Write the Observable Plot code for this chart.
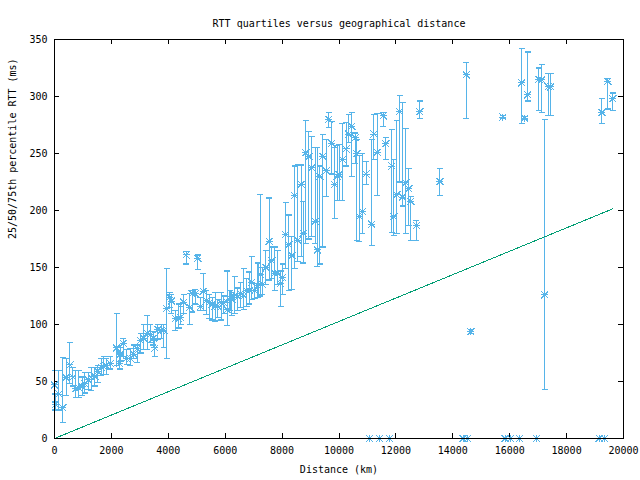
<!DOCTYPE html>
<html><head><meta charset="utf-8">
<script src="https://cdn.jsdelivr.net/npm/d3@7"></script>
<script src="https://cdn.jsdelivr.net/npm/@observablehq/plot@0.6"></script>
<style>
body{margin:0;background:#fff}
svg path, svg line { shape-rendering: crispEdges; }
</style>
</head><body><div id="chart"></div>
<script>
const title = "RTT quartiles versus geographical distance";
const xLabel = "Distance (km)";
const yLabel = "25/50/75th percentile RTT (ms)";
const xTicks = [0, 2000, 4000, 6000, 8000, 10000, 12000, 14000, 16000, 18000, 20000];
const yTicks = [0, 50, 100, 150, 200, 250, 300, 350];

// distance (km), median, 25th, 75th percentile RTT (ms)
const distance = [0,35,150,293,410,540,645,750,855,973,1066,1183,1289,1418,1523,1640,1734,1816,1968,2180,2285,2320,2414,2531,2671,2788,2906,3023,3140,3257,3374,3468,3527,3632,3749,3843,3937,4054,4112,4253,4370,4429,4546,
4628,4757,4840,4945,5040,5130,5225,5340,5435,5540,5645,5740,5860,5950,6070,6170,6230,6340,6445,6540,6655,6750,6845,6935,7030,7150,7240,7310,7430,7545,7640,7735,7850,7945,8015,
8120,8236,8342,8436,8553,8671,8741,8834,8940,9045,9163,9244,9325,9431,9549,9642,9748,9842,9936,10006,10123,10252,10345,10450,10569,10627,10720,10826,10955,11153,11224,11342,11553,11646,11857,11927,12032,12127,12232,12349,12455,12525,12724,12841,
13545,14470,14635,15760,16425,16530,16635,17020,17130,17235,17350,17435,19240,19450,19625,
11072,11424,11775,14365,14517,15841,16028,16344,16942,19146,19332];
const median = [47,30,39,27,53.5,64.6,54,43.6,44.5,45.6,48,51.5,54,54.4,59,62.6,63,64,66,79.5,66,74,83.6,70,70,74,78.7,86,88,92.4,91,88,79.5,95.6,95,95,114,124,120.5,105,105,106,119.6,
161,115,127,127,158,116,129,121,119,117.5,116,116,119,119,113,123,122,126,124,127,125,130,130,137,130,134,144,135,150,173,156,145,145,136,141,
179,170,160.5,213,174,223,180,250.6,247.4,237.4,190.4,165.5,230,247.4,235,280,259,223,230,231.6,244.5,254,267,273.7,263.8,249.7,194.7,199,232,188,267,251,283,258.5,239,194.7,213.8,286.8,211.7,224.3,219,208,186.8,286.6,
225.4,319,93.6,282,312,281,301.5,315,314.6,126,308.5,308.5,286,313.4,298,
0,0,0,0,0,0,0,0,0,0,0];
const q25 = [32,25,25,14,38,48,46,36,36,38,40,43,42,46,49,55,56,56,61,64,61,68,72,65,64,70,67,75,78,78,84,82,72,87,88,80,70,115,110,95,97,100,110,
153,100,111,118,148,112,112,109,105,104,103,106,104,110,99,112,108,110,112,115,113,116,118,122,123,124,125,126,135,139,140,130,135,116,126,
149,130,131,149,155,160,154,171,175,177,171,151,153,168,212,273,232,193,209,209,209,239,260,230,241,174,173,180,223,169,245,213,274,245,181,178,180,225,204,180,187,174,174,281,
213,280.4,92,281,276,280,296,288,285.7,43,283,283,276,289,287.5,
0,0,0,0,0,0,0,0,0,0,0];
const q75 = [60,39,60,71,70,84,62,60,60,54,58,58,62,62,64,70,72,70,72,110,75,80,88,78,79,82,82,92,100,108,100,94,86,100,100,100,149,128,126,112,118,116,126,
164,127,130,131,161,124,145,130,126,124,128,122,128,125,147,130,128,142,132,137,149,140,146,160,136,154,214,150,165,211,168,168,165,147,153,
207,196,177,239,240,240,208,279,269,265,255,255,239,267,262,286,278,255,257,258,276,277,284,286,268,262,248,250,243,262,284,285,286,264,271,245,279,301,295,272,237,212,191,296,
236.6,329.5,95.5,283,342,282.5,339,325,327.8,280,320,320,298,316,303,
0,0,0,0,0,0,0,0,0,0,0];

// reference line (theoretical RTT), endpoints
const lineDistance = [0, 19625];
const lineRtt = [0, 201.5];

const rows = distance.map((d, i) => ({d, m: median[i], lo: q25[i], hi: q75[i]}));
const lineRows = lineDistance.map((d, i) => ({d, v: lineRtt[i]}));

const asterisk = {draw(ctx, size) {
  const r = Math.sqrt(size / Math.PI);
  ctx.moveTo(-r, 0); ctx.lineTo(r, 0);
  ctx.moveTo(0, -r); ctx.lineTo(0, r);
  ctx.moveTo(-r, -r); ctx.lineTo(r, r);
  ctx.moveTo(-r, r); ctx.lineTo(r, -r);
}};
const cap = {draw(ctx, size) {
  const r = Math.sqrt(size / Math.PI);
  ctx.moveTo(-r, 0); ctx.lineTo(r, 0);
}};

const blue = "#56b4e9", green = "#009e73";
const W = 640, H = 480, mL = 54, mR = 17, mT = 39, mB = 42;
const plotH = H - mT - mB, plotW = W - mL - mR, tl = 5;

const chart = Plot.plot({
  width: W, height: H,
  marginLeft: mL, marginRight: mR, marginTop: mT, marginBottom: mB,
  style: {fontFamily: "'DejaVu Sans Mono', monospace", fontSize: "10px", background: "white", color: "black"},
  x: {domain: [0, 20000], ticks: xTicks, tickSize: 0, tickPadding: 8, tickFormat: d => String(d), label: null},
  y: {domain: [0, 350], ticks: yTicks, tickSize: 0, tickPadding: 7, tickFormat: d => String(d), label: null},
  marks: [
    Plot.tickX(xTicks, {x: d => d, insetTop: plotH - tl, stroke: "black"}),
    Plot.tickX(xTicks, {x: d => d, insetBottom: plotH - tl, stroke: "black"}),
    Plot.tickY(yTicks, {y: d => d, insetRight: plotW - tl, stroke: "black"}),
    Plot.tickY(yTicks, {y: d => d, insetLeft: plotW - tl, stroke: "black"}),
    Plot.ruleX(rows, {x: "d", y1: "lo", y2: "hi", stroke: blue, strokeWidth: 1.2}),
    Plot.dot(rows, {x: "d", y: "lo", symbol: cap, r: 3, stroke: blue, fill: "none", strokeWidth: 1.2}),
    Plot.dot(rows, {x: "d", y: "hi", symbol: cap, r: 3, stroke: blue, fill: "none", strokeWidth: 1.2}),
    Plot.dot(rows, {x: "d", y: "m", symbol: asterisk, r: 3.5, stroke: blue, fill: "none", strokeWidth: 1}),
    Plot.line(lineRows, {x: "d", y: "v", stroke: green, strokeWidth: 1}),
    Plot.frame({stroke: "black"}),
    Plot.text([title], {frameAnchor: "top", dy: -20, fill: "black"}),
    Plot.text([xLabel], {frameAnchor: "bottom", dy: 34, fill: "black"}),
    Plot.text([yLabel], {frameAnchor: "left", dx: -42, rotate: -90, fill: "black"})
  ]
});
document.getElementById("chart").append(chart);
</script>
</body></html>
